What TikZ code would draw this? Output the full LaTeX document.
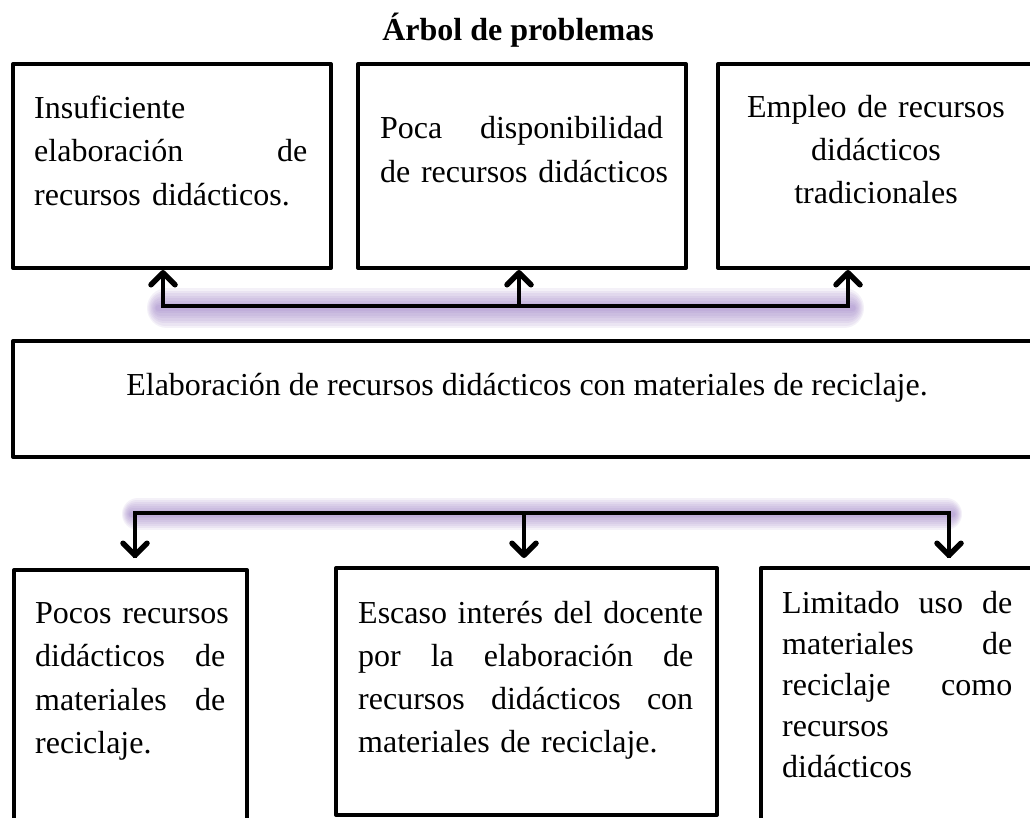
\documentclass[tikz,border=0pt]{standalone}
\usepackage{fontspec}
\setmainfont{Liberation Serif}
\usetikzlibrary{arrows.meta,calc}
\definecolor{glowc}{RGB}{150,120,195}
\newcommand{\jl}[2]{\leavevmode\hbox to #1{#2}}
\begin{document}
\begin{tikzpicture}[x=1pt,y=-1pt,
  box/.style={draw=black, line width=4pt, rectangle, inner sep=0pt, anchor=north west, line join=round},
  txt/.style={inner sep=0pt, anchor=base west, align=left},
  ctxt/.style={inner sep=0pt, anchor=base, align=center},
  conn/.style={line width=4pt, line join=miter},
  tip/.tip={Straight Barb[length=12pt,width=24pt,line width=5.5pt,round]},
  arr/.style={line width=4pt, -tip},
  darr/.style={line width=4pt, tip-tip, line join=miter},
  glow/.style={glowc, line cap=round, opacity=0.1}
]
\useasboundingbox (0,0) rectangle (1030,817);
\clip (0,0) rectangle (1030,817);
\fill[white] (0,0) rectangle (1030,817);

% title
\node[inner sep=0pt, anchor=base, font=\fontsize{32}{38}\selectfont\bfseries] (title) at (518,40) {Árbol de problemas};

% top boxes
\node[box, minimum width=318pt, minimum height=204pt] (b1) at (11,62) {};
\node[box, minimum width=328pt, minimum height=204pt] (b2) at (356,62) {};
\node[box, minimum width=325pt, minimum height=204pt] (b3) at (716,62) {};

% middle box
\node[box, minimum width=1030pt, minimum height=116pt] (mid) at (11,339) {};

% bottom boxes
\node[box, minimum width=233pt, minimum height=258pt] (b4) at (12,568) {};
\node[box, minimum width=381pt, minimum height=247pt] (b5) at (334,566) {};
\node[box, minimum width=282pt, minimum height=260pt] (b6) at (759,566) {};

% texts
\node[txt, text width=313pt, font=\fontsize{32}{43.5}\selectfont] (t1) at (34,118)
  {Insuficiente\\\jl{273pt}{elaboración\hfill de}\\recursos\hspace{0.35em}didácticos.};
\node[txt, text width=323pt, font=\fontsize{32}{44}\selectfont] (t2) at (380,138)
  {\jl{283pt}{Poca\hfill disponibilidad}\\de recursos didácticos};
\node[ctxt, text width=310pt, font=\fontsize{32}{43}\selectfont] (t3) at (876,117)
  {Empleo de recursos\\didácticos\\tradicionales};
\node[ctxt, font=\fontsize{32}{38}\selectfont] (tm) at (527,395)
  {Elaboración de recursos didácticos con materiales de reciclaje.};
\node[txt, text width=230pt, font=\fontsize{32}{43.5}\selectfont] (t4) at (35,623)
  {\jl{190pt}{Pocos recursos}\\\jl{190pt}{didácticos\hfill de}\\\jl{190pt}{materiales\hfill de}\\reciclaje.};
\node[txt, text width=375pt, font=\fontsize{32}{43}\selectfont] (t5) at (358,623)
  {\jl{335pt}{Escaso interés del docente}\\\jl{335pt}{por\hfill la\hfill elaboración\hfill de}\\\jl{335pt}{recursos\hfill didácticos\hfill con}\\materiales de reciclaje.};
\node[txt, text width=270pt, font=\fontsize{32}{41}\selectfont] (t6) at (782,613)
  {\jl{230pt}{Limitado\hfill uso\hfill de}\\\jl{230pt}{materiales\hfill de}\\\jl{230pt}{reciclaje\hfill como}\\recursos\\didácticos};

% top connector
\coordinate (u1) at (163,306);
\coordinate (u2) at (519,306);
\coordinate (u3) at (848,306);
\foreach \w in {40,35,30,25,20,15,10,6} {
  \draw[glow, line width=\w pt] ($(u1)+(-6+\w/4,2)$) -- ($(u3)+(6-\w/4,2)$);
}
\draw[darr] (u1 |- b1.south) -- (u1) -- (u3) -- (u3 |- b3.south);
\draw[arr] (u2) -- (u2 |- b2.south);

% bottom connector
\coordinate (d1) at (135,513);
\coordinate (d2) at (524,513);
\coordinate (d3) at (949,513);
\foreach \w in {32,28,24,20,16,12,8,5} {
  \draw[glow, line width=\w pt] ($(d1)+(-5+\w/4,1)$) -- ($(d3)+(5-\w/4,1)$);
}
\draw[conn] ($(d1 |- b4.north)+(0,-10)$) -- (d1) -- (d3) -- ($(d3 |- b6.north)+(0,-8)$);
\draw[arr] (d1) -- ($(d1 |- b4.north)+(0,-10)$);
\draw[arr] (d2) -- ($(d2 |- b5.north)+(0,-8)$);
\draw[arr] (d3) -- ($(d3 |- b6.north)+(0,-8)$);
\end{tikzpicture}
\end{document}
